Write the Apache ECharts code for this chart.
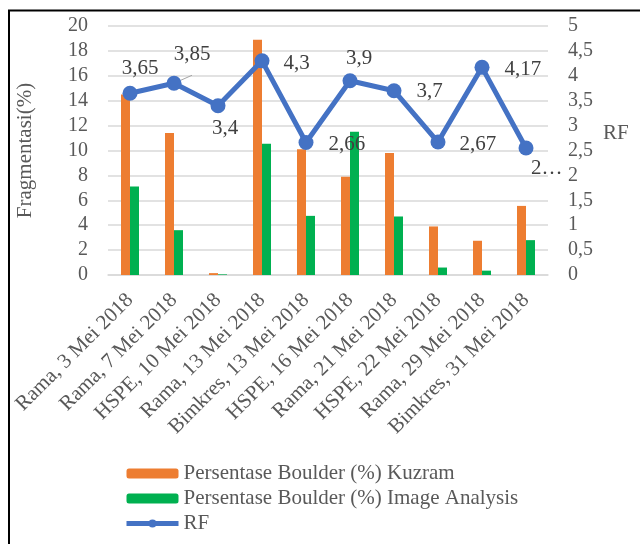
<!DOCTYPE html>
<html>
<head>
<meta charset="utf-8">
<script src="https://cdn.jsdelivr.net/npm/echarts@6/dist/echarts.min.js"></script>
<style>
  html, body { margin: 0; padding: 0; background: #ffffff; }
  #chart { width: 640px; height: 544px; }
</style>
</head>
<body>
<div id="chart"></div>
<script>
// Blast sessions (site, date)
const categories = [
  'Rama, 3 Mei 2018', 'Rama, 7 Mei 2018', 'HSPE, 10 Mei 2018', 'Rama, 13 Mei 2018',
  'Bimkres, 13 Mei 2018', 'HSPE, 16 Mei 2018', 'Rama, 21 Mei 2018', 'HSPE, 22 Mei 2018',
  'Rama, 29 Mei 2018', 'Bimkres, 31 Mei 2018'
];
// Boulder percentage, Kuzram model (%)
const kuzram = [14.5, 11.4, 0.15, 18.9, 10.1, 7.9, 9.8, 3.9, 2.75, 5.55];
// Boulder percentage, image analysis (%)
const imageAnalysis = [7.1, 3.6, 0.05, 10.55, 4.75, 11.5, 4.7, 0.6, 0.35, 2.8];
// Rock factor
const rf = [3.65, 3.85, 3.4, 4.3, 2.66, 3.9, 3.7, 2.67, 4.17, 2.55];

const seriesNames = [
  'Persentase Boulder (%) Kuzram',
  'Persentase Boulder (%) Image Analysis',
  'RF'
];

const serif = "'Liberation Serif', 'Times New Roman', serif";
const axisGray = '#595959';
const comma = v => String(v).replace('.', ',');

// Where each RF value label sits around its marker
const rfLabelPlacement = [
  { position: 'top', distance: 5, offset: [10, -2] },
  { position: 'top', distance: 5, offset: [18, -6], line: true },
  { position: 'bottom', distance: 5, offset: [7, 0] },
  { position: 'right', distance: 13, offset: [1, 3] },
  { position: 'right', distance: 13, offset: [2, 2] },
  { position: 'top', distance: 5, offset: [9, 1] },
  { position: 'right', distance: 13, offset: [2, 1] },
  { position: 'right', distance: 13, offset: [1, 2] },
  { position: 'right', distance: 13, offset: [2, 2] },
  { position: 'bottom', distance: 5, offset: [5, -3], width: 33 }
];

const rfData = rf.map((v, i) => {
  const p = rfLabelPlacement[i];
  const item = {
    value: v,
    label: { position: p.position, distance: p.distance, offset: p.offset }
  };
  if (p.width) {
    item.label.width = p.width;
    item.label.overflow = 'truncate';
    item.label.ellipsis = '…';
    item.label.align = 'left';
  }
  if (p.line) {
    item.labelLine = { show: true, lineStyle: { color: '#A6A6A6', width: 1 } };
  }
  return item;
});

const chart = echarts.init(document.getElementById('chart'));
chart.setOption({
  backgroundColor: '#ffffff',
  animation: false,
  textStyle: { fontFamily: serif },
  graphic: [{
    type: 'rect',
    silent: true,
    shape: { x: 9, y: 10.5, width: 700, height: 600 },
    style: { fill: 'none', stroke: '#000000', lineWidth: 2 }
  }],
  grid: { left: 108, right: 92, top: 26, bottom: 269, containLabel: false },
  legend: {
    orient: 'vertical',
    left: 124,
    top: 463,
    padding: 0,
    itemWidth: 52,
    itemHeight: 10,
    itemGap: 4,
    textStyle: { fontFamily: serif, fontSize: 21, color: axisGray },
    data: [
      seriesNames[0],
      seriesNames[1],
      { name: seriesNames[2], lineStyle: { width: 5 } }
    ]
  },
  xAxis: {
    type: 'category',
    data: categories,
    axisTick: { show: false },
    axisLine: { lineStyle: { color: '#D9D9D9', width: 1.5 } },
    axisLabel: {
      rotate: 45,
      margin: 22,
      interval: 0,
      fontFamily: serif,
      fontSize: 21,
      color: axisGray
    }
  },
  yAxis: [{
    type: 'value',
    min: 0, max: 20, interval: 2,
    name: 'Fragmentasi(%)',
    nameLocation: 'middle',
    nameGap: 72,
    nameTextStyle: { fontFamily: serif, fontSize: 21, color: axisGray },
    axisLine: { show: false },
    axisTick: { show: false },
    axisLabel: { margin: 20, fontFamily: serif, fontSize: 20, color: axisGray },
    splitLine: { lineStyle: { color: '#D9D9D9', width: 1.5 } }
  }, {
    type: 'value',
    min: 0, max: 5, interval: 0.5,
    position: 'right',
    name: 'RF',
    nameLocation: 'middle',
    nameRotate: 0,
    nameGap: 55,
    nameTextStyle: {
      fontFamily: serif, fontSize: 21, color: axisGray,
      verticalAlign: 'bottom', lineHeight: 34
    },
    axisLine: { show: false },
    axisTick: { show: false },
    axisLabel: { margin: 20, fontFamily: serif, fontSize: 20, color: axisGray, formatter: comma },
    splitLine: { show: false }
  }],
  series: [{
    name: seriesNames[0],
    type: 'bar',
    data: kuzram,
    barWidth: 9,
    barGap: '0%',
    itemStyle: { color: '#ED7D31' }
  }, {
    name: seriesNames[1],
    type: 'bar',
    data: imageAnalysis,
    barWidth: 9,
    barGap: '0%',
    itemStyle: { color: '#00B050' }
  }, {
    name: seriesNames[2],
    type: 'line',
    yAxisIndex: 1,
    data: rfData,
    symbol: 'circle',
    symbolSize: 15,
    lineStyle: { color: '#4472C4', width: 5 },
    itemStyle: { color: '#4472C4' },
    label: {
      show: true,
      fontFamily: serif,
      fontSize: 21,
      color: '#404040',
      formatter: p => comma(p.value)
    },
    z: 5
  }]
});
</script>
</body>
</html>
